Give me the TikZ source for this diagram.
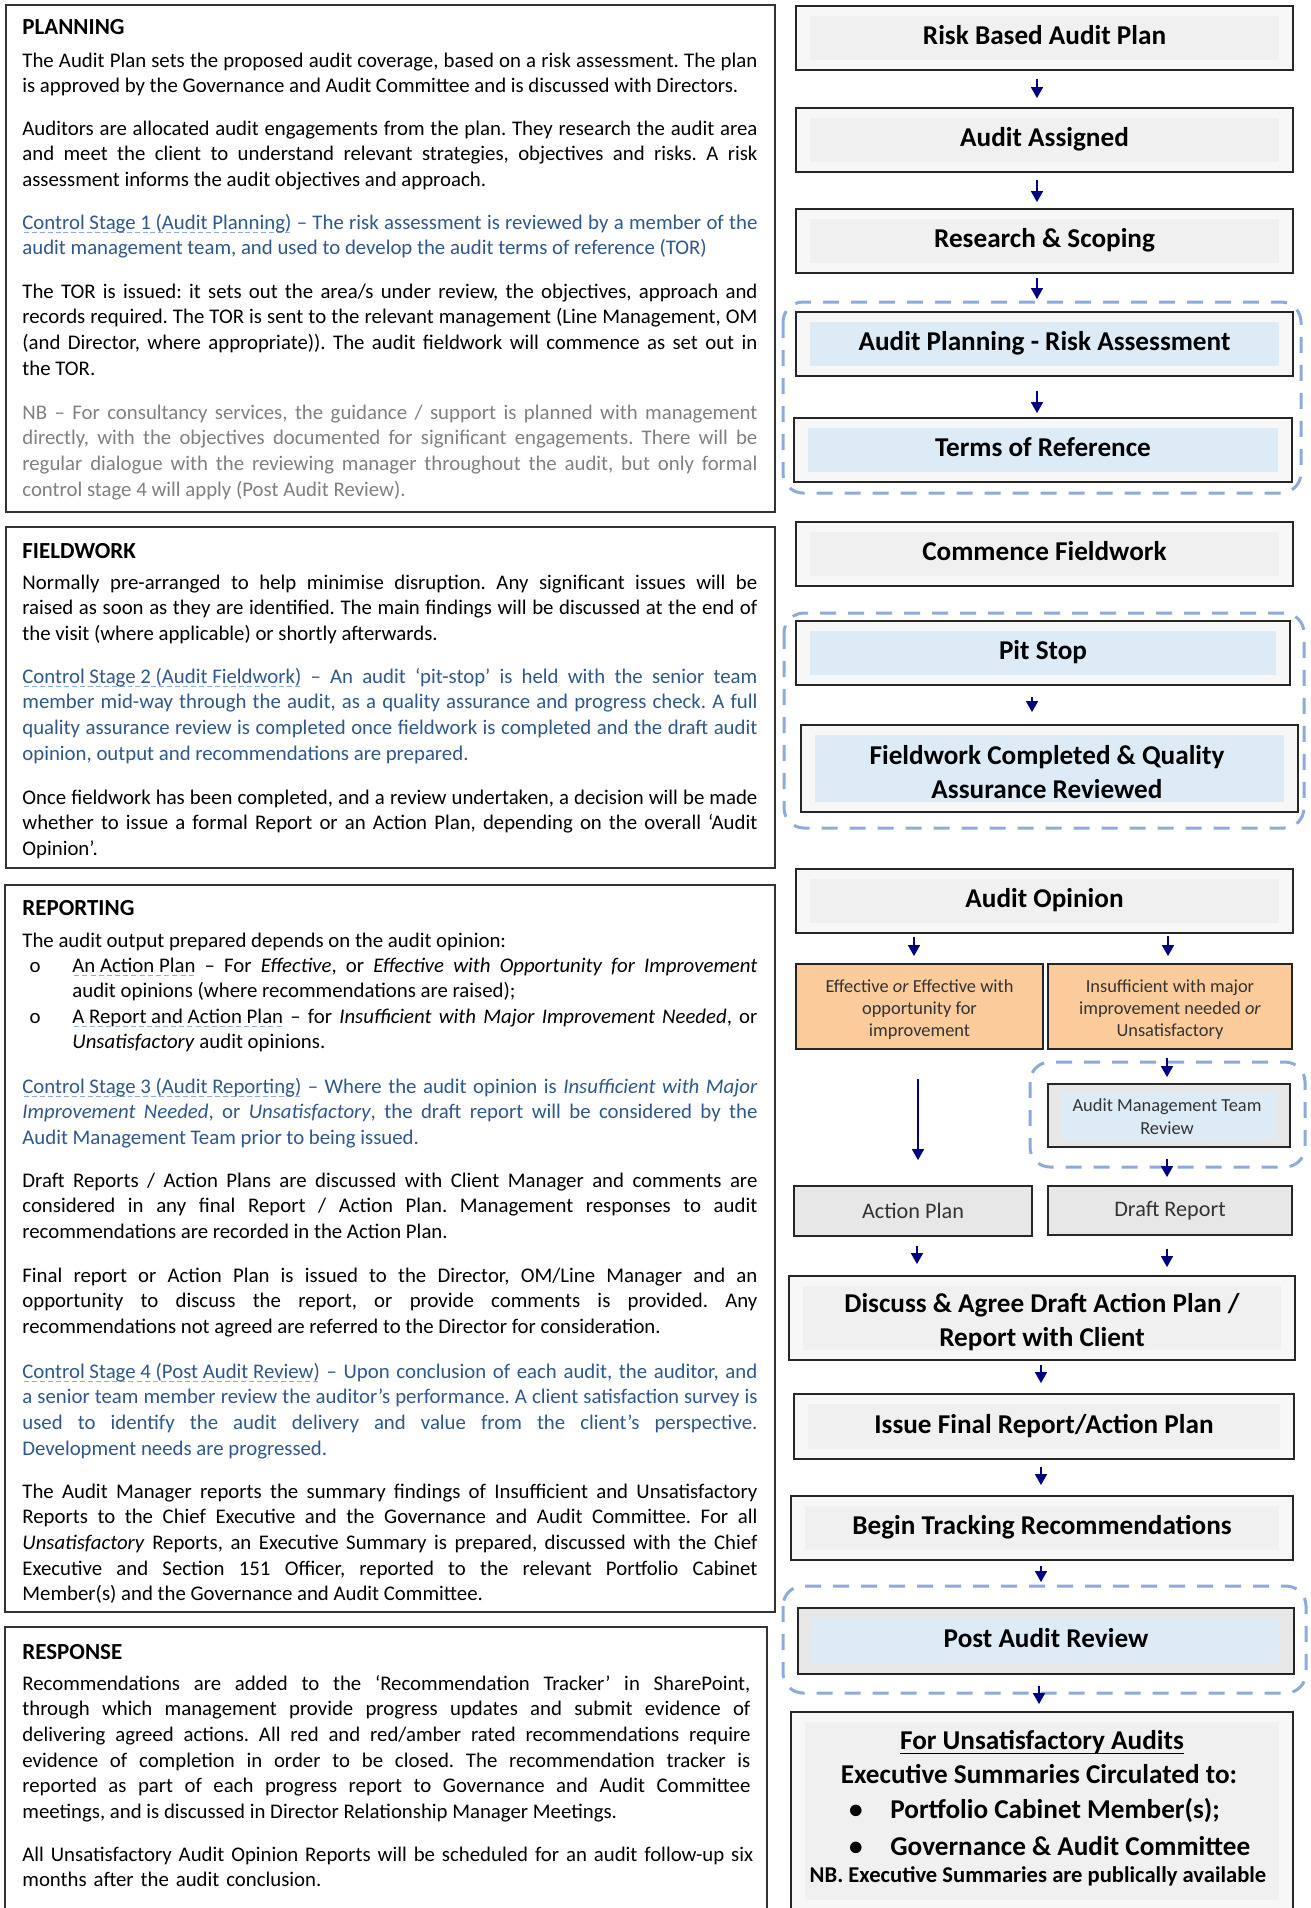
\documentclass[tikz,border=0pt]{standalone}
\usepackage{fontspec}
\setmainfont{Carlito}
\usetikzlibrary{arrows.meta}
\definecolor{outf}{RGB}{247,247,247}
\definecolor{ingrey}{RGB}{240,240,240}
\definecolor{inblue}{RGB}{221,235,247}
\definecolor{midgrey}{RGB}{231,231,231}
\definecolor{orng}{RGB}{251,203,155}
\definecolor{bltxt}{RGB}{46,88,140}
\definecolor{ulc}{RGB}{143,170,220}
\definecolor{gtxt}{RGB}{128,128,128}
\definecolor{grpc}{RGB}{142,170,219}
\definecolor{navyarr}{RGB}{0,0,128}
\definecolor{boxline}{RGB}{38,38,38}
\definecolor{dtxt}{RGB}{51,51,51}
\newsavebox\dubox
\newcommand\dashund[1]{\sbox\dubox{#1}\rlap{\textcolor{ulc}{\raisebox{-1.8pt}{\hbox to \wd\dubox{\xleaders\hbox{\kern.07em\vrule width .24em height .45pt depth 0pt\kern.07em}\hfill}}}}\usebox\dubox}
\newcommand\solidund[1]{\sbox\dubox{#1}\rlap{\rule[-2.6pt]{\wd\dubox}{0.75pt}}\usebox\dubox}
\tolerance=9999 \hbadness=10000 \hyphenpenalty=10000 \exhyphenpenalty=10000
\tikzset{
  panel/.style={draw=black!80, line width=0.7pt},
  hd/.style={anchor=base west, inner sep=0pt, font=\bfseries\fontsize{11.5}{14}\selectfont},
  bd/.style={anchor=base west, inner sep=0pt, text width=367.5pt, align=justify, font=\frenchspacing\fontsize{10.4}{12.85}\selectfont},
  bul/.style={anchor=base, inner sep=0pt, font=\fontsize{10.4}{12.85}\selectfont},
  box/.style={draw=boxline, line width=0.9pt, fill=outf, inner sep=0pt},
  ig/.style={path picture={\fill[ingrey] ([shift={(7pt,-5pt)}]path picture bounding box.north west) rectangle ([shift={(-7pt,5pt)}]path picture bounding box.south east);}},
  ib/.style={path picture={\fill[inblue] ([shift={(7pt,-5pt)}]path picture bounding box.north west) rectangle ([shift={(-7pt,5pt)}]path picture bounding box.south east);}},
  ibs/.style={path picture={\fill[inblue] ([shift={(6.5pt,-4pt)}]path picture bounding box.north west) rectangle ([shift={(-7pt,4pt)}]path picture bounding box.south east);}},
  igf/.style={path picture={\fill[ingrey] ([shift={(7pt,-5pt)}]path picture bounding box.north west) rectangle ([shift={(-7pt,20pt)}]path picture bounding box.south east);}},
  ttl/.style={font=\bfseries\fontsize{13.6}{16.7}\selectfont, align=center, text height=9.5pt, text depth=3pt},
  ttl2/.style={inner sep=0pt, font=\bfseries\fontsize{13.6}{16.7}\selectfont, align=center},
  small/.style={inner sep=0pt, font=\fontsize{9.2}{11}\selectfont, text=dtxt, align=center},
  grp/.style={draw=grpc, line width=1.5pt, dash pattern=on 8pt off 6pt, rounded corners=10pt},
  arr/.style={draw=navyarr, line width=0.75pt, -{Triangle[length=5.5pt,width=6pt]}},
  ftxt/.style={inner sep=0pt, font=\bfseries\fontsize{13.6}{16.7}\selectfont},
}
\begin{document}
\frenchspacing
\begin{tikzpicture}[x=0.5pt,y=-0.5pt]
\useasboundingbox (0,0) rectangle (1311,1908);
\clip (0,0) rectangle (1311,1908);
\fill[white] (0,0) rectangle (1311,1908);

% ---------------- left panels ----------------
\draw[panel] (6,5) rectangle (775,512);
\draw[panel] (6,527) rectangle (775,868);
\draw[panel] (5,885) rectangle (775,1612);
\draw[panel] (5,1627) rectangle (767,1960);

\node[hd] (plh) at (22,34) {PLANNING};
\node[bd] (pl1) at (22,67) {The Audit Plan sets the proposed audit coverage, based on a risk assessment. The plan\linebreak is approved by the Governance and Audit Committee and is discussed with Directors.};
\node[bd] (pl2) at (22,135) {Auditors are allocated audit engagements from the plan. They research the audit area\linebreak and meet the client to understand relevant strategies, objectives and risks. A risk\linebreak assessment informs the audit objectives and approach.};
\node[bd, text=bltxt] (pl3) at (22,229) {\dashund{Control Stage 1 (Audit Planning)} – The risk assessment is reviewed by a member of the\linebreak audit management team, and used to develop the audit terms of reference (TOR)};
\node[bd] (pl4) at (22,298) {The TOR is issued: it sets out the area/s under review, the objectives, approach and\linebreak records required. The TOR is sent to the relevant management (Line Management, OM\linebreak (and Director, where appropriate)). The audit fieldwork will commence as set out in\linebreak the TOR.};
\node[bd, text=gtxt] (pl5) at (22,419) {NB – For consultancy services, the guidance / support is planned with management\linebreak directly, with the objectives documented for significant engagements. There will be\linebreak regular dialogue with the reviewing manager throughout the audit, but only formal\linebreak control stage 4 will apply (Post Audit Review).};

\node[hd] (fwh) at (22,558) {FIELDWORK};
\node[bd] (fw1) at (22,589) {Normally pre-arranged to help minimise disruption. Any significant issues will be\linebreak raised as soon as they are identified. The main findings will be discussed at the end of\linebreak the visit (where applicable) or shortly afterwards.};
\node[bd, text=bltxt] (fw2) at (22,683) {\dashund{Control Stage 2 (Audit Fieldwork)} – An audit ‘pit-stop’ is held with the senior team\linebreak member mid-way through the audit, as a quality assurance and progress check. A full\linebreak quality assurance review is completed once fieldwork is completed and the draft audit\linebreak opinion, output and recommendations are prepared.};
\node[bd] (fw3) at (22,804) {Once fieldwork has been completed, and a review undertaken, a decision will be made\linebreak whether to issue a formal Report or an Action Plan, depending on the overall ‘Audit\linebreak Opinion’.};

\node[hd] (rph) at (22,915) {REPORTING};
\node[bd] (rp0) at (22,947) {The audit output prepared depends on the audit opinion:};
\node[bul] (rpo1) at (35,972) {o};
\node[bd, text width=342.5pt] (rp1) at (72,972) {\dashund{An Action Plan} – For \textit{Effective}, or \textit{Effective with Opportunity for Improvement}\linebreak audit opinions (where recommendations are raised);};
\node[bul] (rpo2) at (35,1023) {o};
\node[bd, text width=342.5pt] (rp2) at (72,1023) {\dashund{A Report and Action Plan} – for \textit{Insufficient with Major Improvement Needed}, or\linebreak \textit{Unsatisfactory} audit opinions.};
\node[bd, text=bltxt] (rp3) at (22,1093) {\dashund{Control Stage 3 (Audit Reporting)} – Where the audit opinion is \textit{Insufficient with Major}\linebreak \textit{Improvement Needed}, or \textit{Unsatisfactory}, the draft report will be considered by the\linebreak Audit Management Team prior to being issued.};
\node[bd] (rp4) at (22,1187) {Draft Reports / Action Plans are discussed with Client Manager and comments are\linebreak considered in any final Report / Action Plan. Management responses to audit\linebreak recommendations are recorded in the Action Plan.};
\node[bd] (rp5) at (22,1282) {Final report or Action Plan is issued to the Director, OM/Line Manager and an\linebreak opportunity to discuss the report, or provide comments is provided. Any\linebreak recommendations not agreed are referred to the Director for consideration.};
\node[bd, text=bltxt] (rp6) at (22,1378) {\dashund{Control Stage 4 (Post Audit Review)} – Upon conclusion of each audit, the auditor, and\linebreak a senior team member review the auditor’s performance. A client satisfaction survey is\linebreak used to identify the audit delivery and value from the client’s perspective.\linebreak Development needs are progressed.};
\node[bd] (rp7) at (22,1498) {The Audit Manager reports the summary findings of Insufficient and Unsatisfactory\linebreak Reports to the Chief Executive and the Governance and Audit Committee. For all\linebreak \textit{Unsatisfactory} Reports, an Executive Summary is prepared, discussed with the Chief\linebreak Executive and Section 151 Officer, reported to the relevant Portfolio Cabinet\linebreak Member(s) and the Governance and Audit Committee.};

\node[hd] (rsh) at (22,1659) {RESPONSE};
\node[bd, text width=364pt] (rs1) at (22,1690) {Recommendations are added to the ‘Recommendation Tracker’ in SharePoint,\linebreak through which management provide progress updates and submit evidence of\linebreak delivering agreed actions. All red and red/amber rated recommendations require\linebreak evidence of completion in order to be closed. The recommendation tracker is\linebreak reported as part of each progress report to Governance and Audit Committee\linebreak meetings, and is discussed in Director Relationship Manager Meetings.};
\node[bd, text width=380pt, align=left] (rs2) at (22,1861) {All Unsatisfactory Audit Opinion Reports will be scheduled for an audit follow-up six\\months after the audit conclusion.};

% ---------------- right flowchart ----------------
\draw[grp] (783,302) rectangle (1301,493);
\draw[grp] (784,613) rectangle (1304,828);
\draw[grp] (1030,1062) rectangle (1305,1167);
\draw[grp] (783,1586) rectangle (1306,1693);

\node[box, ig, ttl, minimum width=248.5pt, minimum height=32pt] (rbap) at (1044.5,38) {Risk Based Audit Plan};
\node[box, ig, ttl, minimum width=248.5pt, minimum height=32pt] (assigned) at (1044.5,140) {Audit Assigned};
\node[box, ig, ttl, minimum width=248.5pt, minimum height=32pt] (research) at (1044.5,241) {Research \& Scoping};
\node[box, ib, ttl, minimum width=248.5pt, minimum height=32pt] (planrisk) at (1044.5,344) {Audit Planning - Risk Assessment};
\node[box, ib, ttl, minimum width=249pt, minimum height=32pt] (tor) at (1043,450) {Terms of Reference};
\node[box, ig, ttl, minimum width=248.5pt, minimum height=32pt] (commence) at (1044.5,554) {Commence Fieldwork};
\node[box, ib, ttl, minimum width=247pt, minimum height=32pt] (pitstop) at (1043,653) {Pit Stop};
\node[box, ib, minimum width=248.5pt, minimum height=43.5pt] (fwcomp) at (1049.5,768.5) {};
\node[ttl2] (fwcompt) at (1047,772) {Fieldwork Completed \& Quality\\Assurance Reviewed};
\node[box, ig, ttl, minimum width=248.5pt, minimum height=32pt] (opinion) at (1044.5,901) {Audit Opinion};
\node[box, fill=orng, minimum width=123.5pt, minimum height=42.5pt] (effective) at (919.5,1006.5) {};
\node[small] (effectivet) at (919.5,1009.5) {Effective \textit{or} Effective with\\opportunity for\\improvement};
\node[box, fill=orng, minimum width=122pt, minimum height=42.5pt] (insuff) at (1170,1006.5) {};
\node[small] (insufft) at (1170,1009.5) {Insufficient with major\\improvement needed \textit{or}\\Unsatisfactory};
\node[box, fill=midgrey, ibs, minimum width=121pt, minimum height=31.5pt] (amt) at (1169,1115.5) {};
\node[small, font=\fontsize{9.2}{11.5}\selectfont] (amtt) at (1167,1117) {Audit Management Team\\Review};
\node[box, fill=midgrey, font=\fontsize{11.1}{13}\selectfont, text=dtxt, minimum width=119pt, minimum height=25pt] (actionplan) at (913,1211) {Action Plan};
\node[box, fill=midgrey, font=\fontsize{11.1}{13}\selectfont, text=dtxt, minimum width=122pt, minimum height=24.5pt] (draftreport) at (1170,1210.5) {Draft Report};
\node[box, ig, minimum width=253pt, minimum height=42pt] (discuss) at (1042,1318) {};
\node[ttl2] (discusst) at (1042,1322) {Discuss \& Agree Draft Action Plan /\\Report with Client};
\node[box, ig, ttl, minimum width=250pt, minimum height=32.5pt] (issue) at (1044,1426.5) {Issue Final Report/Action Plan};
\node[box, ig, ttl, minimum width=251pt, minimum height=32pt] (tracking) at (1042,1528) {Begin Tracking Recommendations};
\node[box, fill=midgrey, ib, ttl, minimum width=248pt, minimum height=33pt] (postreview) at (1046,1641) {Post Audit Review};
\node[box, igf, minimum width=251pt, minimum height=114pt] (final) at (1042,1826) {};

\node[ftxt, anchor=base] (fb1) at (1042,1749) {\solidund{For Unsatisfactory Audits}};
\node[ftxt, anchor=base] (fb2) at (1039,1783) {Executive Summaries Circulated to:};
\node[ftxt, anchor=base] (fb3b) at (856,1818) {•};
\node[ftxt, anchor=base west] (fb3) at (890,1818) {Portfolio Cabinet Member(s);};
\node[ftxt, anchor=base] (fb4b) at (856,1855) {•};
\node[ftxt, anchor=base west] (fb4) at (890,1855) {Governance \& Audit Committee};
\node[anchor=base, inner sep=0pt, font=\bfseries\fontsize{11.3}{13}\selectfont] (fb5) at (1038,1882) {NB. Executive Summaries are publically available};

% ---------------- arrows ----------------
\draw[arr, shorten <=4pt, shorten >=4.5pt] ([xshift=-3.75pt]rbap.south) -- ([xshift=-3.75pt]assigned.north);
\draw[arr, shorten <=3.5pt, shorten >=3pt] ([xshift=-3.75pt]assigned.south) -- ([xshift=-3.75pt]research.north);
\draw[arr, shorten <=2pt, shorten >=6pt] ([xshift=-3.75pt]research.south) -- ([xshift=-3.75pt]planrisk.north);
\draw[arr, shorten <=7pt, shorten >=2pt] ([xshift=-3.75pt]planrisk.south) -- ([xshift=-3pt]tor.north);
\draw[arr, shorten <=5.5pt, shorten >=6pt] ([xshift=-5.5pt]pitstop.south) -- ([xshift=-8.75pt]fwcomp.north);
\draw[arr, shorten <=1.5pt, shorten >=3.5pt] ([xshift=-65.25pt]opinion.south) -- ([xshift=-2.75pt]effective.north);
\draw[arr, shorten <=1pt, shorten >=3.5pt] ([xshift=61.75pt]opinion.south) -- ([xshift=-1pt]insuff.north);
\draw[arr, shorten <=4pt, shorten >=3pt] ([xshift=-1.5pt]insuff.south) -- ([xshift=-1pt]amt.north);
\draw[arr, shorten <=14.5pt, shorten >=12.5pt] ([xshift=-0.75pt]effective.south) -- ([xshift=2.5pt]actionplan.north);
\draw[arr, shorten <=5.5pt, shorten >=4pt] ([xshift=-1pt]amt.south) -- ([xshift=-1.5pt]draftreport.north);
\draw[arr, shorten <=4.5pt, shorten >=5.5pt] ([xshift=2pt]actionplan.south) -- ([xshift=-62.5pt]discuss.north);
\draw[arr, shorten <=6.5pt, shorten >=4pt] ([xshift=-1.5pt]draftreport.south) -- ([xshift=62.5pt]discuss.north);
\draw[arr, shorten <=2pt, shorten >=5pt] ([xshift=-0.5pt]discuss.south) -- ([xshift=-1.5pt]issue.north);
\draw[arr, shorten <=3.5pt, shorten >=5pt] ([xshift=-1.5pt]issue.south) -- ([xshift=-0.5pt]tracking.north);
\draw[arr, shorten <=2.5pt, shorten >=12.5pt] ([xshift=-0.5pt]tracking.south) -- ([xshift=-2.5pt]postreview.north);
\draw[arr, shorten <=5.5pt, shorten >=3.5pt] ([xshift=-3.5pt]postreview.south) -- ([xshift=-1.5pt]final.north);
\end{tikzpicture}
\end{document}
